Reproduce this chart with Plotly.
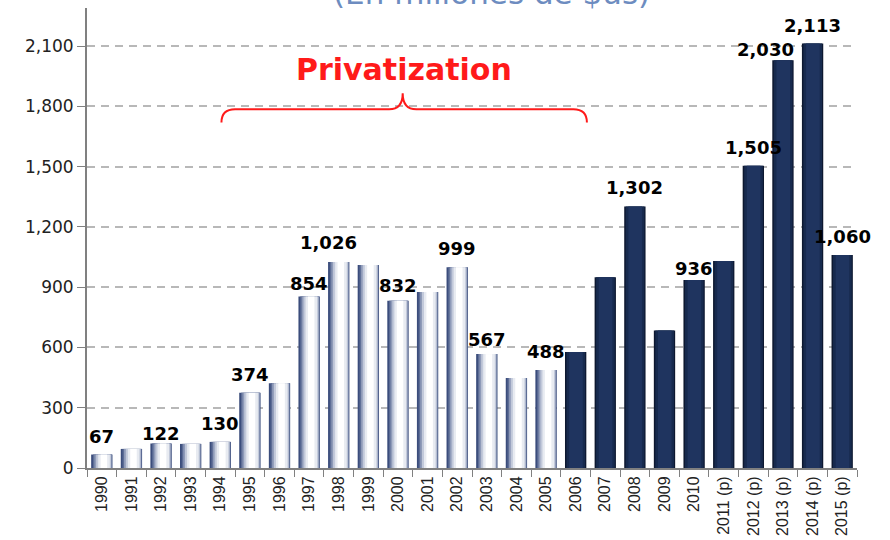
import plotly.graph_objects as go

# Inversion anual (millones de $us), 1990-2015
years = ["1990", "1991", "1992", "1993", "1994", "1995", "1996", "1997", "1998", "1999",
         "2000", "2001", "2002", "2003", "2004", "2005", "2006", "2007", "2008", "2009",
         "2010", "2011 (p)", "2012 (p)", "2013 (p)", "2014 (p)", "2015 (p)"]
investment = [67, 95, 122, 120, 130, 374, 422, 854, 1026, 1010,
              832, 876, 999, 567, 448, 488, 578, 950, 1302, 685,
              936, 1030, 1505, 2030, 2113, 1060]
labeled_years = ["1990", "1992", "1994", "1995", "1997", "1998", "2000", "2002", "2003",
                 "2005", "2008", "2010", "2012 (p)", "2013 (p)", "2014 (p)", "2015 (p)"]
privatization_years = years[:16]
later_years = years[16:]

# (offset, width, colour) layers to fake the cylinder shading of the bars
light_layers = [(-0.36, 0.72, "#3b4d7c"), (-0.30, 0.645, "#5d6d96"), (-0.25, 0.58, "#8e9ab8"),
                (-0.19, 0.50, "#c2c9da"), (-0.12, 0.39, "#e8ebf1"), (-0.04, 0.22, "#ffffff")]
dark_layers = [(-0.36, 0.72, "#0d1830"), (-0.31, 0.63, "#172a4e"), (-0.22, 0.46, "#1f345f")]
# hand placed labels in the original: (x shift px, gap above bar px)
label_place = {"1992": (0, 1), "1997": (0, 4), "1998": (-10, 11), "2000": (0, 7),
               "2003": (0, 6), "2010": (0, 3), "2013 (p)": (-17, 2)}

fig = go.Figure()


def add_layers(xs, layers):
    ys = [investment[years.index(x)] for x in xs]
    for offset, width, color in layers:
        fig.add_trace(go.Bar(x=xs, y=ys, offset=offset, width=width,
                             marker=dict(color=color, line_width=0),
                             hoverinfo="skip", showlegend=False))


add_layers(privatization_years, light_layers)
add_layers(later_years, dark_layers)

for yr in labeled_years:
    i = years.index(yr)
    dx, gap = label_place.get(yr, (0, 10))
    fig.add_annotation(x=i, y=investment[i], text=f"<b>{investment[i]:,}</b>", showarrow=False,
                       yanchor="bottom", yshift=gap - 4, xshift=dx,
                       font=dict(family="DejaVu Sans", size=18, color="black"))

# curly brace over the privatization period
brace = ("M 4.04,1720 Q 4.04,1786 4.5,1786 L 9.7,1786 Q 10.16,1786 10.16,1866 "
         "Q 10.16,1786 10.62,1786 L 15.92,1786 Q 16.38,1786 16.38,1720")
fig.add_shape(type="path", path=brace, xref="x", yref="y",
              line=dict(color="#ff1a1a", width=2))
fig.add_annotation(x=10.2, y=1985, xref="x", yref="y", text="<b>Privatization</b>",
                   showarrow=False, font=dict(family="DejaVu Sans", size=30, color="#ff1a1a"))

# title sits half outside the top edge, as in the original slide
fig.add_annotation(x=0.525, y=1, xref="paper", yref="paper", text="(En millones de $us)",
                   showarrow=False, yanchor="bottom", yshift=-5,
                   font=dict(family="DejaVu Sans", size=31, color="#6d8cc0"))

fig.update_layout(
    width=890, height=540,
    margin=dict(l=87, r=33, t=8, b=72),
    barmode="overlay",
    plot_bgcolor="white", paper_bgcolor="white",
    showlegend=False,
)
fig.update_xaxes(type="category", categoryorder="array", categoryarray=years,
                 range=[-0.5, 25.5], tickson="boundaries", ticks="outside", ticklen=7,
                 tickcolor="#808080", tickangle=-90, automargin=False,
                 tickfont=dict(family="Arial", size=16, color="#222222"),
                 showline=True, linecolor="#808080", linewidth=2, showgrid=False)
fig.update_yaxes(range=[0, 2290], tickvals=list(range(0, 2101, 300)), tickformat=",",
                 ticks="outside", ticklen=8, tickcolor="#808080", automargin=False,
                 tickfont=dict(family="DejaVu Sans", size=17, color="#222222"),
                 showline=True, linecolor="#808080", linewidth=2, zeroline=False,
                 showgrid=True, gridcolor="#b8b8b8", gridwidth=1.5, griddash="8px,6px")

fig.write_html("out.html", config={"displayModeBar": False},
               post_script="document.body.style.margin = '0';")
